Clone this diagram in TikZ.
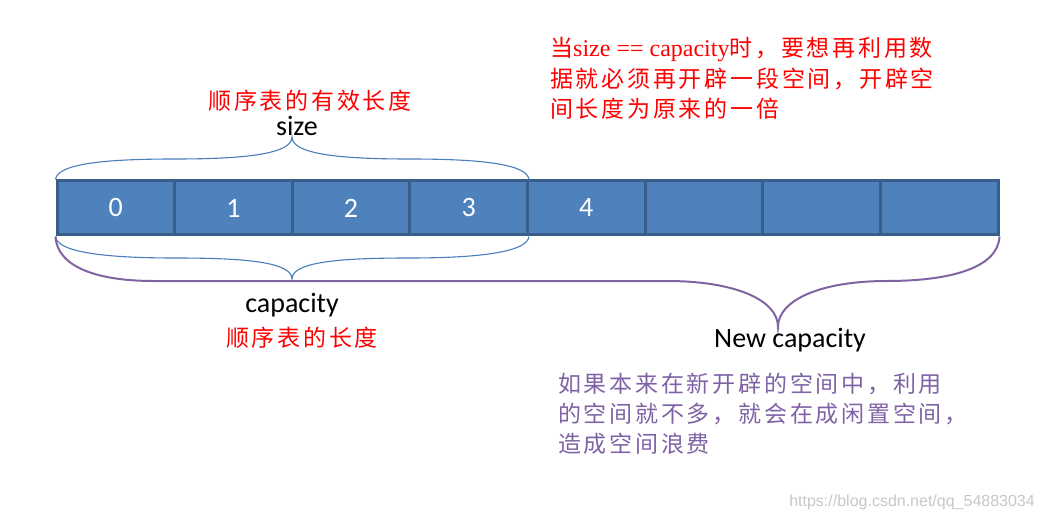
\documentclass[tikz,border=0pt]{standalone}
\usepackage{fontspec}
\setmainfont{Carlito}
\newfontfamily\cjk[LetterSpace=12]{Noto Sans CJK SC}
\newfontfamily\serifl{Liberation Serif}
\newfontfamily\wmfont{Liberation Sans}
\definecolor{cellblue}{HTML}{4F81BD}
\definecolor{cellborder}{HTML}{3A5E8C}
\definecolor{braceblue}{HTML}{4A7EBB}
\definecolor{bracepurple}{HTML}{8064A2}
\definecolor{notepurple}{HTML}{7F62A6}
\tikzset{
  cell/.style={draw=cellborder, fill=cellblue, line width=3pt, minimum width=117.6pt,
    minimum height=54pt, inner sep=0pt, text=white, font=\fontsize{28}{28}\selectfont},
  bluebrace/.style={draw=braceblue, line width=1.1pt},
  purplebrace/.style={draw=bracepurple, line width=2pt},
  label/.style={inner sep=0pt, font=\fontsize{28}{28}\selectfont, text=black},
  cjkred/.style={inner sep=0pt, anchor=west, text=red, font=\cjk\fontsize{23}{23}\selectfont},
  cjkpurple/.style={inner sep=0pt, anchor=west, text=notepurple, font=\cjk\fontsize{23}{23}\selectfont},
  cjkcenter/.style={inner sep=0pt, text=red, font=\cjk\fontsize{23}{23}\selectfont},
  watermark/.style={inner sep=0pt, anchor=east, text=black!22, font=\wmfont\fontsize{16}{16}\selectfont}
}
\begin{document}
\begin{tikzpicture}[x=1pt,y=-1pt]
\useasboundingbox (0,0) rectangle (1043,521);
% cells
\foreach \i/\t in {0/0,1/1,2/2,3/3,4/4,5/,6/,7/} {
  \node[cell] (c\i) at ({57+117.625*\i+58.81},208) {\t};
}
% size brace (above)
\draw[bluebrace] (c0.north west) .. controls (57,163) and (110,159) .. (175,159)
  .. controls (245,159) and (292,154) .. (292,137)
  .. controls (292,154) and (339,159) .. (409,159)
  .. controls (474,159) and (527,163) .. (c3.north east);
% capacity brace (below, blue)
\draw[bluebrace] (c0.south west) .. controls (57,253) and (110,258) .. (175,258)
  .. controls (245,258) and (292,262) .. (292,279)
  .. controls (292,262) and (339,258) .. (409,258)
  .. controls (474,258) and (527,253) .. (c3.south east);
% new capacity brace (below, purple)
\draw[purplebrace] (c0.south west) .. controls (57,268) and (100,281) .. (153,281)
  -- (667,281)
  .. controls (735,281) and (778,300) .. (778,327)
  .. controls (778,300) and (821,281) .. (887,281)
  .. controls (950,281) and (998,268) .. (c7.south east);
% labels
\node[cjkcenter] (sizecn) at (310,101) {顺序表的有效长度};
\node[label] (size) at (297,126) {size};
\node[label] (cap) at (292,305) {capacity};
\node[cjkcenter] (capcn) at (302,338) {顺序表的长度};
\node[label] (newcap) at (790,340) {New capacity};
% red note
\node[cjkred] (r1) at (550,49) {当{\serifl\fontsize{24}{24}\selectfont size == capacity}时，要想再利用数};
\node[cjkred] (r2) at (550,79) {据就必须再开辟一段空间，开辟空};
\node[cjkred] (r3) at (550,109) {间长度为原来的一倍};
% purple note
\node[cjkpurple] (p1) at (558,384) {如果本来在新开辟的空间中，利用};
\node[cjkpurple] (p2) at (558,414) {的空间就不多，就会在成闲置空间，};
\node[cjkpurple] (p3) at (558,444) {造成空间浪费};
% watermark
\node[watermark] (wm) at (1035,502) {https://blog.csdn.net/qq\_54883034};
\end{tikzpicture}
\end{document}
